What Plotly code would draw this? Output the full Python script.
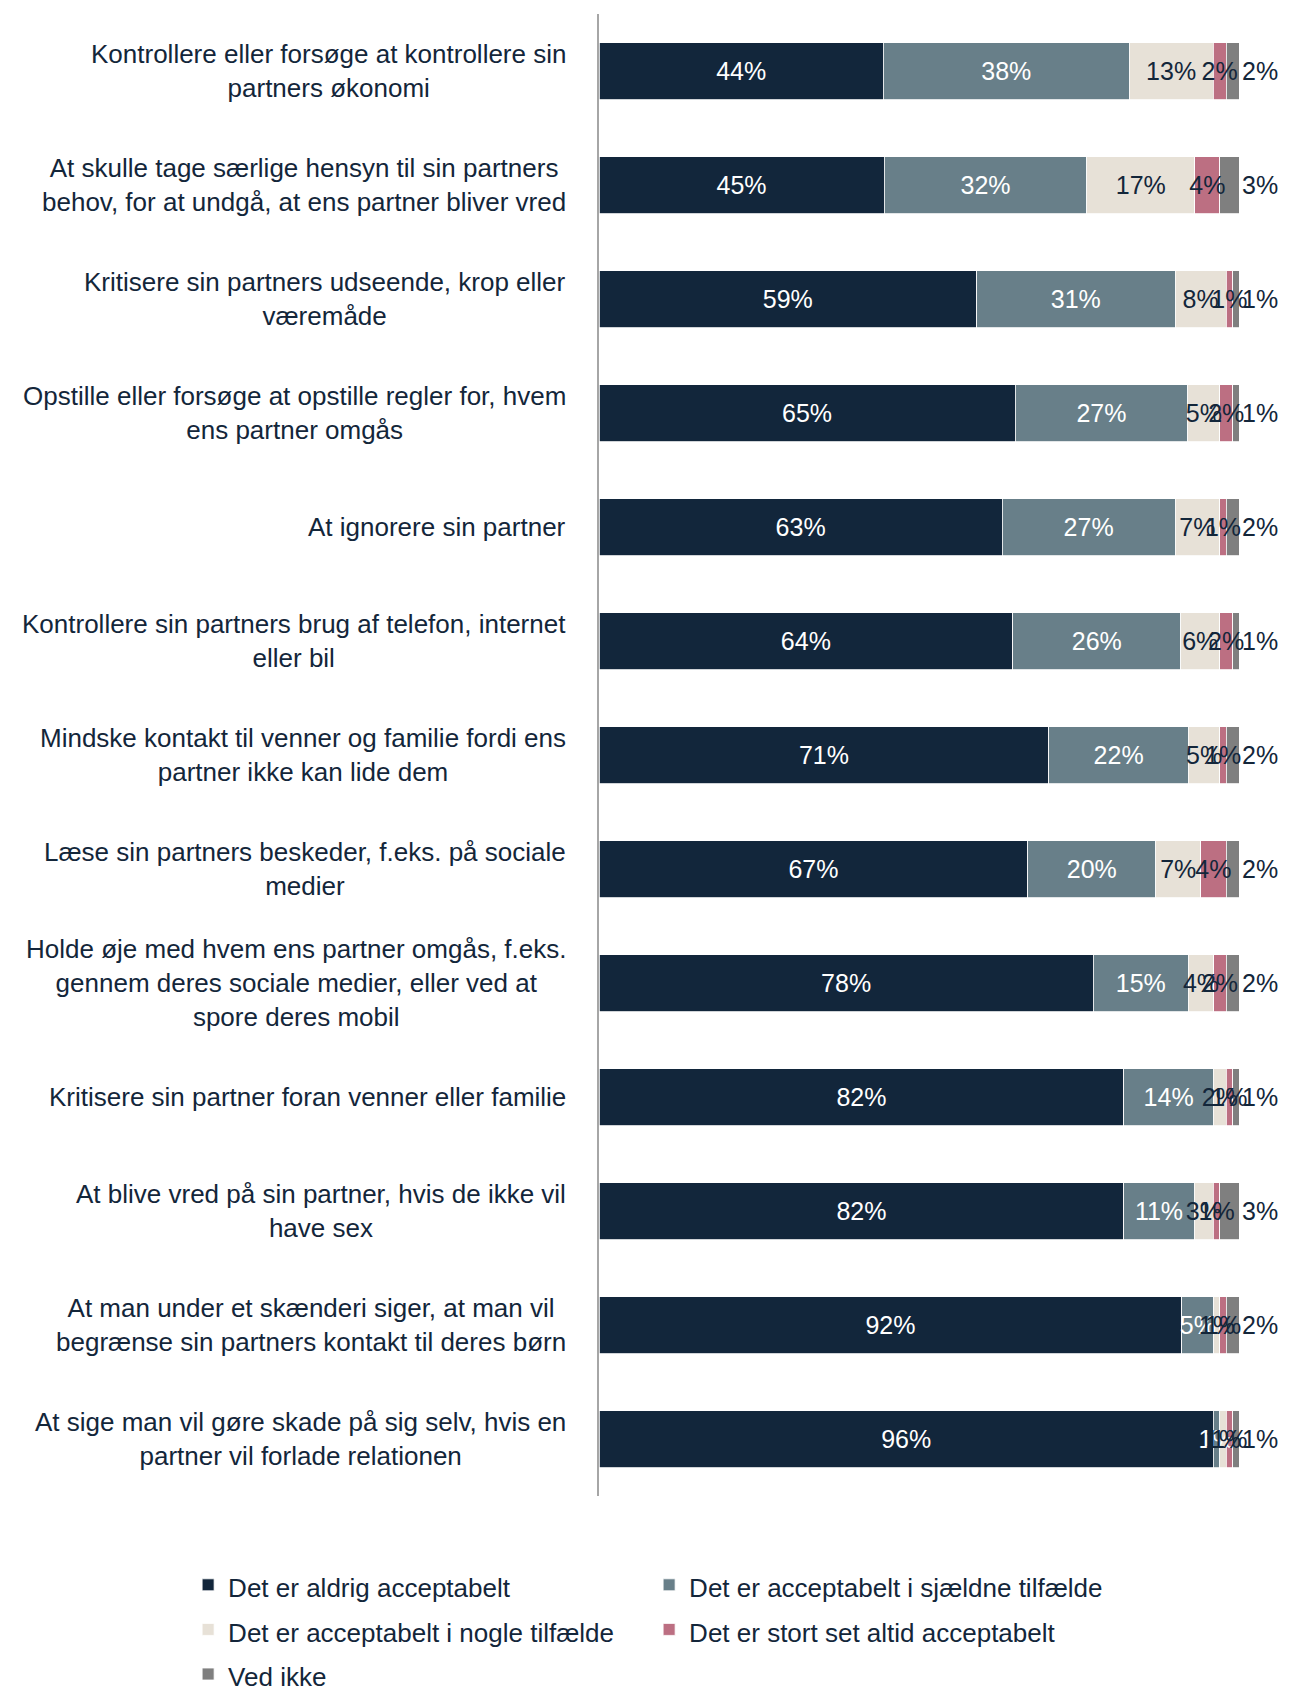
import plotly.graph_objects as go

# statements, top to bottom
categories = [
    "Kontrollere eller forsøge at kontrollere sin<br>partners økonomi",
    "At skulle tage særlige hensyn til sin partners<br>behov, for at undgå, at ens partner bliver vred",
    "Kritisere sin partners udseende, krop eller<br>væremåde",
    "Opstille eller forsøge at opstille regler for, hvem<br>ens partner omgås",
    "At ignorere sin partner",
    "Kontrollere sin partners brug af telefon, internet<br>eller bil",
    "Mindske kontakt til venner og familie fordi ens<br>partner ikke kan lide dem",
    "Læse sin partners beskeder, f.eks. på sociale<br>medier",
    "Holde øje med hvem ens partner omgås, f.eks.<br>gennem deres sociale medier, eller ved at<br>spore deres mobil",
    "Kritisere sin partner foran venner eller familie",
    "At blive vred på sin partner, hvis de ikke vil<br>have sex",
    "At man under et skænderi siger, at man vil<br>begrænse sin partners kontakt til deres børn",
    "At sige man vil gøre skade på sig selv, hvis en<br>partner vil forlade relationen",
]

aldrig = [44, 45, 59, 65, 63, 64, 71, 67, 78, 82, 82, 92, 96]
sjaeldne = [38, 32, 31, 27, 27, 26, 22, 20, 15, 14, 11, 5, 1]
nogle = [13, 17, 8, 5, 7, 6, 5, 7, 4, 2, 3, 1, 1]
altid = [2, 4, 1, 2, 1, 2, 1, 4, 2, 1, 1, 1, 1]
ved_ikke = [2, 3, 1, 1, 2, 1, 2, 2, 2, 1, 3, 2, 1]

series = [
    ("Det er aldrig acceptabelt", aldrig, "#12263B", "white"),
    ("Det er acceptabelt i sjældne tilfælde", sjaeldne, "#687F89", "white"),
    ("Det er acceptabelt i nogle tilfælde", nogle, "#E7E1D7", "#13263A"),
    ("Det er stort set altid acceptabelt", altid, "#BC6F82", "#13263A"),
    ("Ved ikke", ved_ikke, "#7F7F7F", "#13263A"),
]

FONT = "Liberation Sans, Arial, sans-serif"
DARK = "#13263A"

fig = go.Figure()

# coloured bars
for name, vals, color, _ in series:
    fig.add_trace(go.Bar(
        y=categories, x=vals, orientation="h",
        # legend font is set larger than the text so rows get more air
        name=f'<span style="font-size:26px">{name}</span>',
        marker=dict(color=color, line=dict(color="white", width=0.8)),
        hoverinfo="skip",
    ))

# same stack again on an overlaid axis, transparent, only to carry the
# labels so that they are drawn above every segment (small ones overflow)
for i, (name, vals, _, txtcolor) in enumerate(series):
    last = i == len(series) - 1
    fig.add_trace(go.Bar(
        y=categories, x=vals, orientation="h", yaxis="y2",
        marker=dict(color="rgba(0,0,0,0)", line=dict(width=0)),
        text=[f"{v}%" for v in vals],
        # "Ved ikke" labels sit just past the bar end, like the original
        textposition="outside" if last else "inside",
        insidetextanchor="middle",
        textangle=0, constraintext="none", cliponaxis=False,
        textfont=dict(family=FONT, size=25, color=txtcolor),
        showlegend=False, hoverinfo="skip",
    ))

# category labels, centred lines, right-aligned block next to the axis
for cat in categories:
    fig.add_annotation(
        x=-0.048, xref="paper", y=cat, yref="y",
        text=cat, showarrow=False, xanchor="right", align="center",
        font=dict(family=FONT, size=26, color=DARK),
    )

# page body adds 8px, so the figure is 8px smaller than the window
fig.update_layout(
    barmode="stack",
    barnorm="percent",
    bargap=0.5,
    width=1282, height=1681,
    # autoexpand off: the legend must not squeeze the plot area
    margin=dict(l=591, r=51, t=6, b=193, autoexpand=False),
    plot_bgcolor="white", paper_bgcolor="white",
    font=dict(family=FONT, color=DARK),
    showlegend=True,
    legend=dict(
        orientation="h", x=-0.642, xanchor="left", y=-0.0415, yanchor="top",
        entrywidth=416, entrywidthmode="pixels", traceorder="normal",
        font=dict(family=FONT, size=32, color=DARK),
    ),
    yaxis2=dict(
        overlaying="y", anchor="x", categoryorder="array",
        categoryarray=categories, autorange="reversed", visible=False,
    ),
)
fig.update_xaxes(range=[0, 100], visible=False)
fig.update_yaxes(
    autorange="reversed", showticklabels=False, ticks="",
    showline=True, linecolor="#A6A6A6", linewidth=2, showgrid=False,
    selector=dict(overlaying=None),
)

fig.write_html("out.html")
